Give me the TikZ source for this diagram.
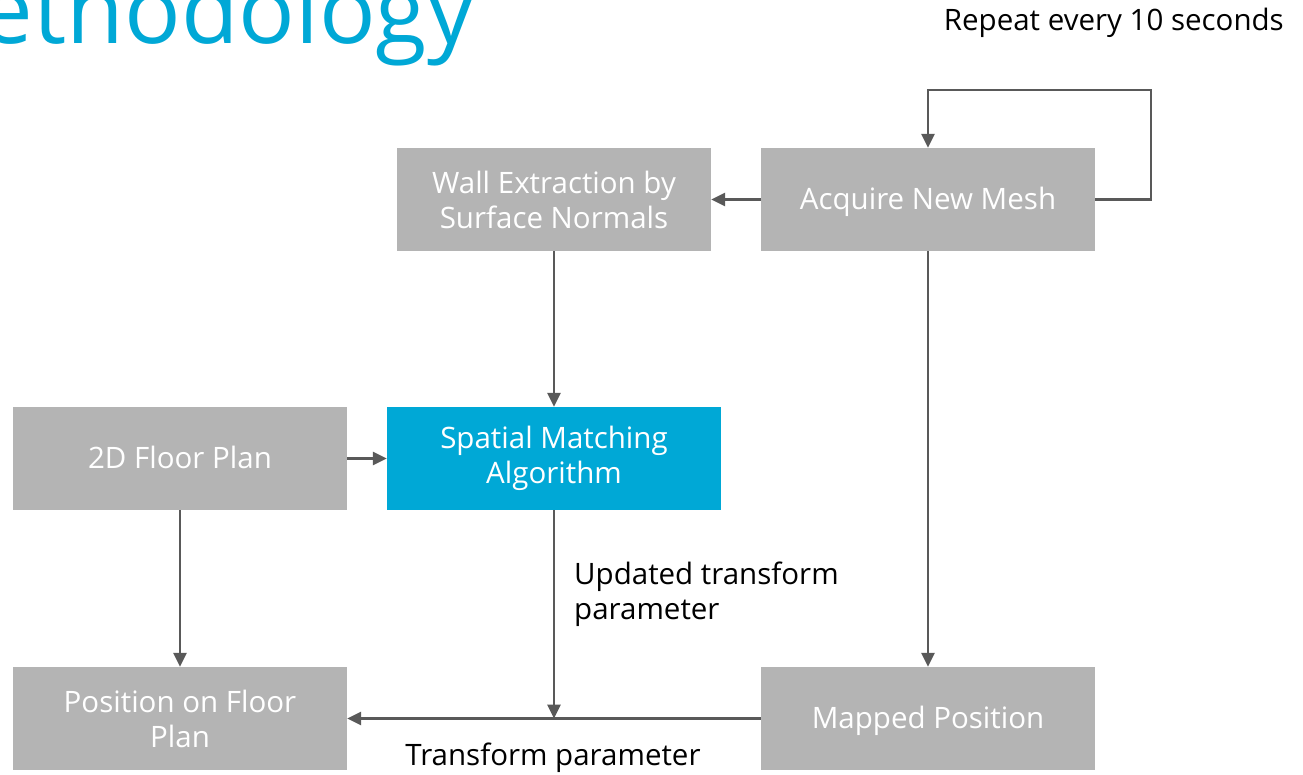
\documentclass[tikz,border=0pt]{standalone}
\usepackage{fontspec}
\setmainfont{Open Sans}
\usetikzlibrary{arrows.meta}
\definecolor{boxgray}{RGB}{180,180,180}
\definecolor{boxblue}{RGB}{0,168,214}
\definecolor{linegray}{RGB}{89,89,89}
\definecolor{titleblue}{RGB}{0,168,214}
\begin{document}
\begin{tikzpicture}[x=1pt,y=-1pt,
  box/.style={fill=boxgray,draw=none,minimum width=334pt,minimum height=103pt,
    inner sep=0pt,align=center,text=white,font=\fontsize{29.5}{35}\selectfont},
  onebox/.style={box,text height=20pt,text depth=0pt},
  bluebox/.style={box,fill=boxblue},
  conn/.style={draw=linegray,line width=2.8pt,-{Triangle[length=14pt,width=13pt]}},
  lbl/.style={text=black,font=\fontsize{29.5}{35}\selectfont,inner sep=0pt,align=left}]
\useasboundingbox (0,0) rectangle (1303,774);
\clip (0,0) rectangle (1303,774);
\fill[white] (0,0) rectangle (1303,774);
\node[anchor=base east,inner sep=0pt,text=titleblue,font=\fontsize{94}{100}\selectfont] (title) at (475,43) {Methodology};
\node[anchor=base east,lbl] (rep) at (1284,30) {Repeat every 10 seconds};
\node[box,minimum width=314pt] (wall) at (554,199.5) {Wall Extraction by\\Surface Normals};
\node[onebox] (acq) at (928,199.5) {Acquire New Mesh};
\node[onebox] (fp) at (180,458.5) {2D Floor Plan};
\node[bluebox] (sma) at (554,458.5) {Spatial Matching\\Algorithm};
\node[box] (pos) at (180,718.5) {Position on Floor\\Plan};
\node[onebox] (map) at (928,718.5) {Mapped Position};
\coordinate (lr) at (1151,199.5);
\coordinate (lt) at (1151,90);
\coordinate (lm) at (928,90);
\coordinate (junc) at (554,718.5);
\draw[conn] (acq.east) -- (lr) -- (lt) -- (lm) -- (acq.north);
\draw[conn] (acq.west) -- (wall.east);
\draw[conn] (wall.south) -- (sma.north);
\draw[conn] (fp.east) -- (sma.west);
\draw[conn] (fp.south) -- (pos.north);
\draw[conn] (acq.south) -- (map.north);
\draw[conn] (map.west) -- (pos.east);
\draw[conn] (sma.south) -- (junc);
\node[lbl,anchor=base west] (upd) at (574,619) {Updated transform\\parameter};
\node[lbl,anchor=base] (tp) at (553,765) {Transform parameter};
\end{tikzpicture}
\end{document}
